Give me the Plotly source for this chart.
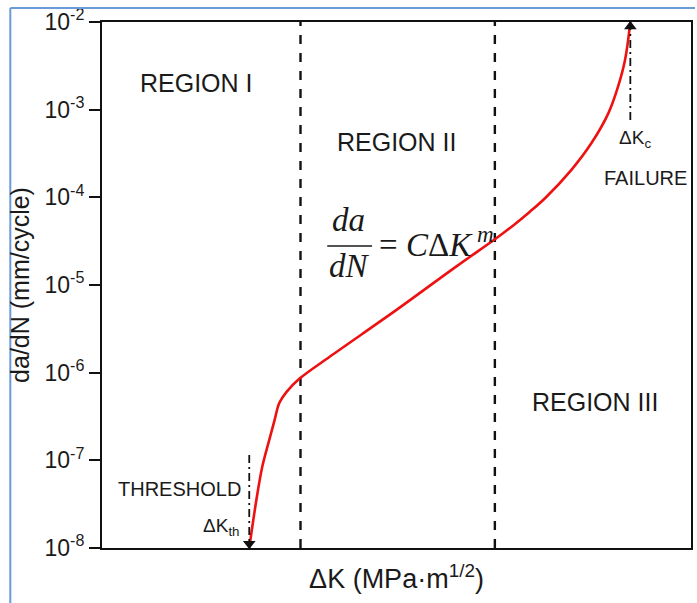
import plotly.graph_objects as go

# Crack growth curve (arbitrary ΔK units 0-100)
dK = [25.0, 26.2, 27.2, 28.4, 29.3, 30.1, 31.3, 33.5, 38.6, 50.0, 60.0, 67.0, 69.5, 72.5, 75.3, 79.7, 83.1, 86.0, 87.6, 88.8, 89.7]
dadN = [1.0e-8, 3.5e-8, 8.4e-8, 1.71e-7, 2.88e-7, 4.5e-7, 6.0e-7, 8.5e-7, 1.51e-6, 5.2e-6, 1.6e-5, 3.43e-5, 4.6e-5, 6.73e-5, 9.9e-5, 2.06e-4, 4.16e-4, 9.2e-4, 1.82e-3, 3.69e-3, 1.0e-2]

region_bounds = [33.7, 66.7]
dK_th = 25.0
dK_c = 89.7
th_arrow_y = [1.15e-7, 1.1e-8]
c_arrow_y = [7.6e-4, 9.0e-3]

y_tickvals = [1e-8, 1e-7, 1e-6, 1e-5, 1e-4, 1e-3, 1e-2]
y_ticktext = ["10<sup>-8</sup>", "10<sup>-7</sup>", "10<sup>-6</sup>", "10<sup>-5</sup>",
              "10<sup>-4</sup>", "10<sup>-3</sup>", "10<sup>-2</sup>"]

FONT = "Liberation Sans, Arial, sans-serif"
TXT = "#1a1a1a"

fig = go.Figure()

for xb in region_bounds:
    fig.add_trace(go.Scatter(x=[xb, xb], y=[1e-8, 1e-2], mode="lines",
                             line=dict(color="#111", width=2.4, dash="9px,9px"),
                             showlegend=False, hoverinfo="skip"))

fig.add_trace(go.Scatter(x=dK, y=dadN, mode="lines", line=dict(color="#ee1111", width=2.6, shape="spline", smoothing=1.0),
                         showlegend=False))

# threshold arrow (dash-dot, pointing down)
fig.add_trace(go.Scatter(x=[dK_th, dK_th], y=th_arrow_y, mode="lines",
                         line=dict(color="#111", width=1.8, dash="8px,4px,2px,4px"), showlegend=False))
fig.add_trace(go.Scatter(x=[dK_th], y=[1.12e-8], mode="markers",
                         marker=dict(symbol="triangle-down", size=11, color="#111"), showlegend=False))
# failure arrow (dash-dot, pointing up)
fig.add_trace(go.Scatter(x=[dK_c, dK_c], y=c_arrow_y, mode="lines",
                         line=dict(color="#111", width=1.8, dash="8px,4px,2px,4px"), showlegend=False))
fig.add_trace(go.Scatter(x=[dK_c], y=[8.9e-3], mode="markers",
                         marker=dict(symbol="triangle-up", size=11, color="#111"), showlegend=False))

def ann(x, y, text, size, xanchor="center", family=FONT):
    fig.add_annotation(x=x, y=y, xref="paper", yref="paper", text=text, showarrow=False,
                       font=dict(family=family, size=size, color=TXT), xanchor=xanchor, yanchor="middle")

W0, W1 = 102, 693
T0, B0 = 22, 548
def px(x):
    return (x - W0) / (W1 - W0)
def py(y):
    return (B0 - y) / (B0 - T0)

ann(px(197), py(83), "REGION I", 25)
ann(px(397), py(142), "REGION II", 25)
ann(px(597), py(402), "REGION III", 25)
ann(px(243), py(489), "THRESHOLD", 20, xanchor="right")
ann(px(241), py(527), "ΔK<sub>th</sub>", 19, xanchor="right")
ann(px(637), py(139), "ΔK<sub>c</sub>", 19)
ann(px(647), py(178), "FAILURE", 20)

SERIF = "Liberation Serif, Times New Roman, serif"
ann(px(349), py(220), "<i>da</i>", 33, family=SERIF)
ann(px(350), py(266), "<i>dN</i>", 33, family=SERIF)
ann(px(378), py(242), "= <i>C</i>Δ<i>K</i><sup><i> m</i></sup>", 33, xanchor="left", family=SERIF)
fig.add_shape(type="line", xref="paper", yref="paper", x0=px(328), x1=px(373), y0=py(246), y1=py(246),
              line=dict(color=TXT, width=1.5))

# blue screenshot frame
fig.add_shape(type="line", xref="paper", yref="paper", x0=px(10), x1=px(10), y0=py(8), y1=py(603),
              line=dict(color="#6a9ad8", width=2))
fig.add_shape(type="line", xref="paper", yref="paper", x0=px(10), x1=px(697), y0=py(8), y1=py(8),
              line=dict(color="#6a9ad8", width=2))

fig.update_xaxes(range=[0, 100], showticklabels=False, ticks="", showgrid=False, zeroline=False,
                 showline=True, linecolor="#111", linewidth=2, mirror=True,
                 title=dict(text="ΔK (MPa·m<sup>1/2</sup>)", font=dict(family=FONT, size=27, color=TXT), standoff=20))
fig.update_yaxes(type="log", range=[-8, -2], tickvals=y_tickvals, ticktext=y_ticktext,
                 ticks="outside", ticklen=11, tickwidth=2, tickcolor="#111", showgrid=False, zeroline=False,
                 showline=True, linecolor="#111", linewidth=2, mirror=True,
                 tickfont=dict(family=FONT, size=23, color=TXT),
                 title=dict(text="da/dN (mm/cycle)", font=dict(family=FONT, size=25, color=TXT), standoff=8))

fig.update_layout(width=697, height=603, margin=dict(l=102, r=4, t=22, b=55),
                  plot_bgcolor="white", paper_bgcolor="white", showlegend=False)

fig.write_html("out.html", config={"displayModeBar": False},
               post_script="document.body.style.margin='0';document.body.style.overflow='hidden';")
